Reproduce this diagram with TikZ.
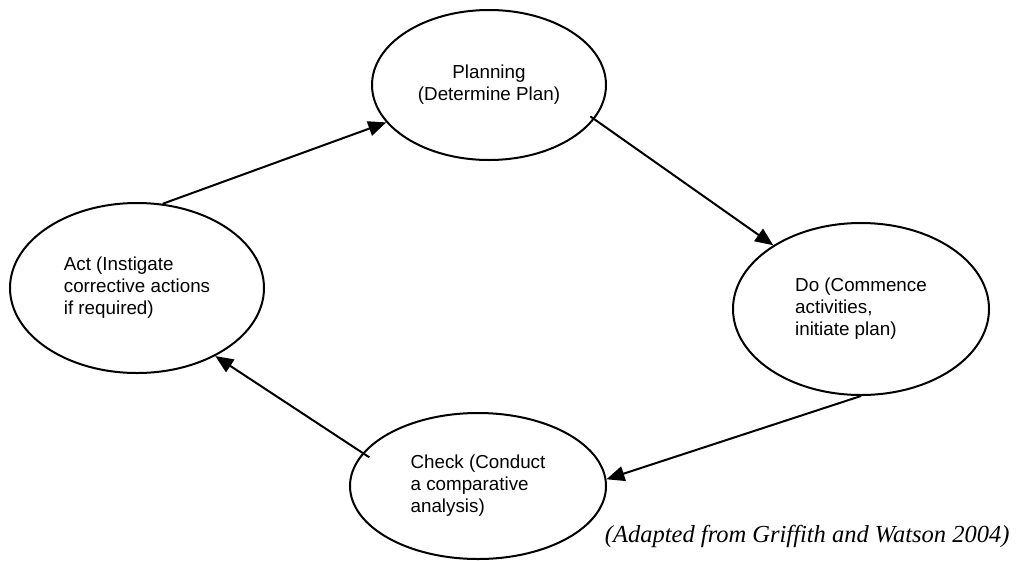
\documentclass[tikz,border=0pt]{standalone}
\usepackage{fontspec}
\setmainfont{Liberation Sans}
\newfontfamily\fuentecita{Liberation Serif}
\usetikzlibrary{shapes.geometric, arrows.meta, positioning}

\begin{document}
\begin{tikzpicture}[x=1pt, y=-1pt,
  fase/.style={ellipse, draw, line width=2pt, inner sep=0pt, align=left,
    font=\fontsize{18.8}{22}\selectfont},
  flecha/.style={line width=2pt, -{Triangle[length=18pt,width=15pt]}}]

\useasboundingbox (0,0) rectangle (1017,560);

% Las cuatro fases del ciclo
\node[fase, align=center, minimum width=234pt, minimum height=150pt] (plan) at (489,85) {Planning\\(Determine Plan)};
\node[fase, minimum width=256pt, minimum height=172pt] (do) at (861,309) {Do (Commence\\activities,\\initiate plan)};
\node[fase, minimum width=256pt, minimum height=146pt] (check) at (478,486) {Check (Conduct\\a comparative\\analysis)};
\node[fase, minimum width=254pt, minimum height=170pt] (act) at (137,288) {Act (Instigate\\corrective actions\\if required)};

% Flechas entre fases
\draw[flecha] (act.73) -- (plan.200);
\draw[flecha, shorten <=-5pt] (plan.-18) -- (do.144);
\draw[flecha] (do.south) -- (check.3);
\draw[flecha, shorten <=-8pt] (check.164) -- (act.-41);

% Fuente
\node[anchor=base east, font=\fuentecita\itshape\fontsize{24.5}{28}\selectfont] (fuente) at (1013,542) {(Adapted from Griffith and Watson 2004)};

\end{tikzpicture}
\end{document}
